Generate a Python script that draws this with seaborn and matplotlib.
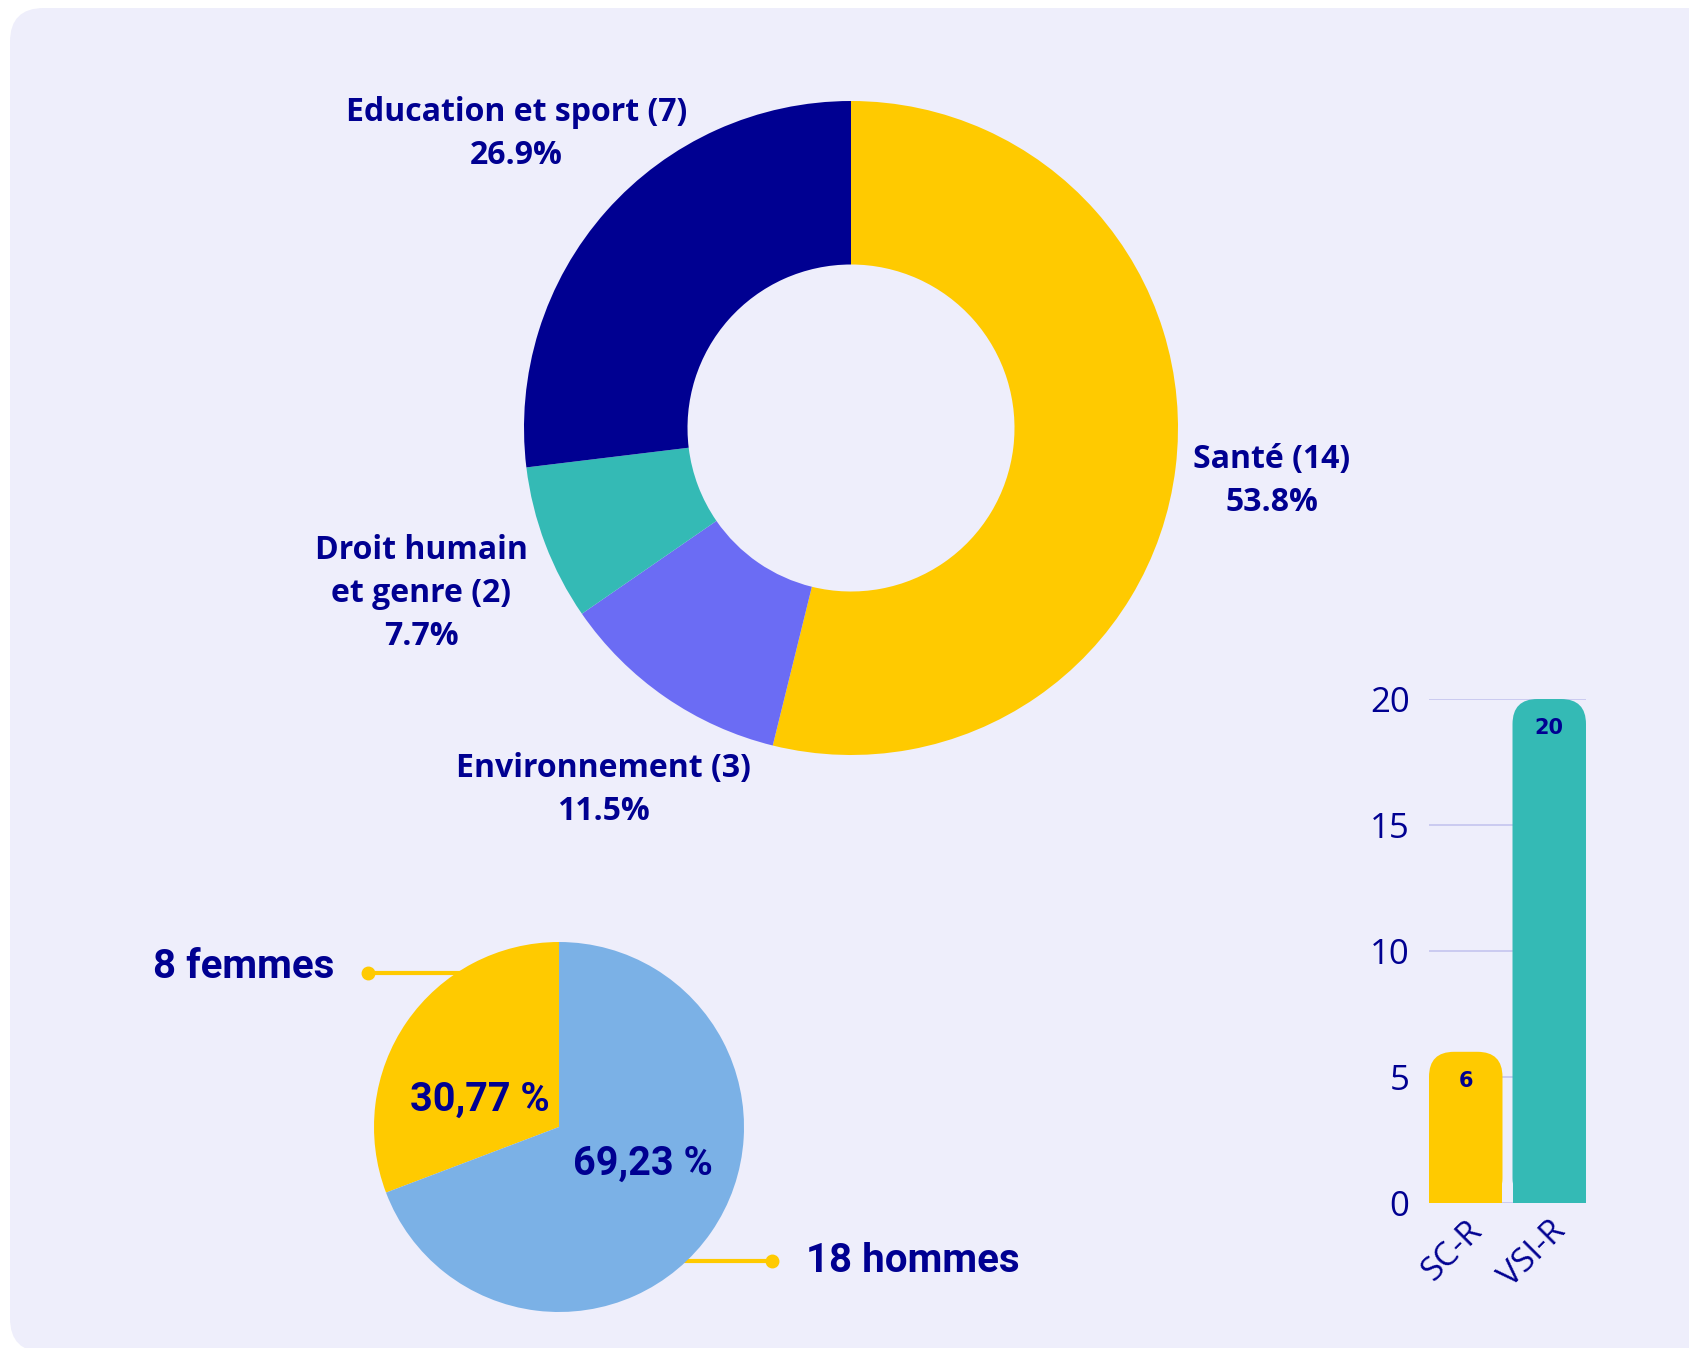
import matplotlib
matplotlib.use('Agg')
import matplotlib.pyplot as plt
import seaborn as sns
import pandas as pd
from matplotlib.patches import FancyBboxPatch

# data
themes = ["Santé", "Environnement", "Droit humain\net genre", "Education et sport"]
theme_counts = [14, 3, 2, 7]
theme_pcts = ["53.8%", "11.5%", "7.7%", "26.9%"]

genders = ["femmes", "hommes"]
gender_counts = [8, 18]
gender_pcts = ["30,77 %", "69,23 %"]

programs = ["SC-R", "VSI-R"]
program_counts = [6, 20]

NAVY = "#000091"
YELLOW = "#FFCA00"
PURPLE = "#6B6CF4"
TEAL = "#34BAB5"
LIGHTBLUE = "#7BB1E6"
PANEL = "#EEEEFB"

sns.set_theme(style="white")
plt.rcParams['font.family'] = ['Open Sans', 'DejaVu Sans']

W, H = 1690, 1348
fig = plt.figure(figsize=(W / 100, H / 100), dpi=100)
fig.patch.set_facecolor("white")

# rounded background panel (runs off the right edge)
panel = FancyBboxPatch((10 / W, -4 / H), 1.1, (H - 4) / H,
                       boxstyle="round,pad=0,rounding_size=0.02",
                       transform=fig.transFigure, facecolor=PANEL,
                       edgecolor="none", zorder=-5, mutation_aspect=W / H)
fig.patches.append(panel)


def axes_px(left, top, width, height):
    """add axes using pixel box (top-left origin)"""
    ax = fig.add_axes([left / W, 1 - (top + height) / H, width / W, height / H])
    ax.set_facecolor("none")
    return ax


# donut chart
cx, cy, R = 851, 428, 327
ax_d = axes_px(cx - R, cy - R, 2 * R, 2 * R)
ax_d.pie(theme_counts, colors=[YELLOW, PURPLE, TEAL, NAVY], startangle=90,
         counterclock=False, radius=1, wedgeprops=dict(width=0.5, linewidth=0))
ax_d.set_xlim(-1, 1)
ax_d.set_ylim(-1, 1)
ax_d.axis("off")

label_pos = [(1.287, -0.162), (-0.758, -1.107), (-1.315, -0.506), (-1.024, 0.898)]
for name, n, pct, (lx, ly) in zip(themes, theme_counts, theme_pcts, label_pos):
    ax_d.text(lx, ly, f"{name} ({n})\n{pct}", ha="center", va="center",
              fontsize=23, fontweight="bold", color=NAVY, linespacing=1.4,
              clip_on=False)

# small pie chart
px, py, r = 559, 1127, 185
ax_p = axes_px(px - r, py - r, 2 * r, 2 * r)
ax_p.pie(gender_counts, colors=[YELLOW, LIGHTBLUE], startangle=90,
         counterclock=True, radius=1, wedgeprops=dict(linewidth=0, zorder=3))
ax_p.set_xlim(-1, 1)
ax_p.set_ylim(-1, 1)
ax_p.axis("off")

ax_p.text(-0.427, 0.146, gender_pcts[0], ha="center", va="center",
          fontsize=28.5, fontweight="bold", color=NAVY, family="Roboto", zorder=5)
ax_p.text(0.454, -0.20, gender_pcts[1], ha="center", va="center",
          fontsize=28.5, fontweight="bold", color=NAVY, family="Roboto", zorder=5)

# leader lines behind the pie
ax_p.plot([-1.032, -0.5], [0.832, 0.832], color=YELLOW, lw=3, zorder=1, clip_on=False)
ax_p.plot([-1.032], [0.832], "o", color=YELLOW, ms=9, zorder=1, clip_on=False)
ax_p.plot([1.151, 0.5], [-0.724, -0.724], color=YELLOW, lw=3, zorder=1, clip_on=False)
ax_p.plot([1.151], [-0.724], "o", color=YELLOW, ms=9, zorder=1, clip_on=False)

ax_p.text(-1.216, 0.865, f"{gender_counts[0]} {genders[0]}", ha="right", va="center",
          fontsize=29, fontweight="bold", color=NAVY, family="Roboto", clip_on=False)
ax_p.text(1.335, -0.722, f"{gender_counts[1]} {genders[1]}", ha="left", va="center",
          fontsize=29, fontweight="bold", color=NAVY, family="Roboto", clip_on=False)

# bar chart
ax_b = axes_px(1429, 699, 157, 504)
df = pd.DataFrame({"program": programs, "count": program_counts})
sns.barplot(data=df, x="program", y="count", hue="program", saturation=1,
            palette=[YELLOW, TEAL], width=0.88, legend=False, ax=ax_b,
            linewidth=0, zorder=2)
ax_b.set_xlim(-0.44, 1.44)
ax_b.set_ylim(0, 20)
ax_b.set_yticks([0, 5, 10, 15, 20])
ax_b.yaxis.grid(True, color="#C4C4EE", linewidth=1.2, zorder=0)
ax_b.set_axisbelow(True)
for s in ax_b.spines.values():
    s.set_visible(False)
ax_b.set_xlabel("")
ax_b.set_ylabel("")
ax_b.tick_params(axis="y", length=0, pad=14, labelsize=25, labelcolor=NAVY)
ax_b.tick_params(axis="x", length=0, pad=8, labelsize=24, labelcolor=NAVY)
for lab in ax_b.get_xticklabels():
    lab.set_rotation(45)
    lab.set_ha("right")
    lab.set_rotation_mode("anchor")

# rounded tops on the bars
xr = 0.3
asp = (157 / 1.88) / (504 / 20)
for bar in list(ax_b.patches):
    x0, w, h = bar.get_x(), bar.get_width(), bar.get_height()
    fc = bar.get_facecolor()
    bar.set_height(h - xr * asp)
    top = FancyBboxPatch((x0, 0), w, h, boxstyle=f"round,pad=0,rounding_size={xr}",
                         mutation_aspect=asp, facecolor=fc, edgecolor="none",
                         linewidth=0, zorder=2)
    ax_b.add_patch(top)
    ax_b.text(x0 + w / 2, h - 1.15, f"{int(h)}", ha="center", va="center",
              fontsize=15, fontweight="bold", color=NAVY, family="DejaVu Sans",
              zorder=4)

fig.savefig("out.png", dpi=100, facecolor="white")
